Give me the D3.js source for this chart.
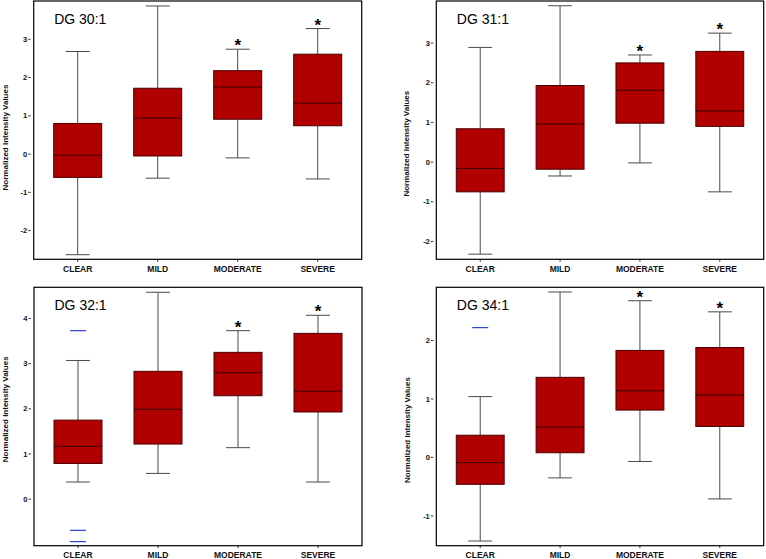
<!DOCTYPE html>
<html><head><meta charset="utf-8">
<script src="https://cdn.jsdelivr.net/npm/d3@7"></script>
<style>
html,body{margin:0;padding:0;background:#fff;}
svg{display:block;font-family:"Liberation Sans",Arial,Helvetica,sans-serif;}
</style></head>
<body><svg id="chart" width="766" height="559"></svg>
<script>
// ---- data ----
const categories = ["CLEAR", "MILD", "MODERATE", "SEVERE"];
const titles = ["DG 30:1", "DG 31:1", "DG 32:1", "DG 34:1"];
const yLabel = "Normalized Intensity Values";
const significant = [false, false, true, true];

const dg30Max = [2.68, 3.87, 2.74, 3.28];
const dg30Q3  = [0.80, 1.72, 2.18, 2.61];
const dg30Med = [-0.03, 0.94, 1.75, 1.33];
const dg30Q1  = [-0.61, -0.05, 0.91, 0.74];
const dg30Min = [-2.63, -0.63, -0.10, -0.65];
const dg30Out = [[], [], [], []];
const dg30Ticks = [-2, -1, 0, 1, 2, 3];

const dg31Max = [2.89, 3.94, 2.70, 3.25];
const dg31Q3  = [0.84, 1.93, 2.50, 2.79];
const dg31Med = [-0.16, 0.96, 1.81, 1.29];
const dg31Q1  = [-0.75, -0.18, 0.98, 0.90];
const dg31Min = [-2.32, -0.35, -0.02, -0.75];
const dg31Out = [[], [], [], []];
const dg31Ticks = [-2, -1, 0, 1, 2, 3];

const dg32Max = [3.07, 4.58, 3.73, 4.07];
const dg32Q3  = [1.75, 2.83, 3.25, 3.67];
const dg32Med = [1.17, 1.99, 2.80, 2.39];
const dg32Q1  = [0.79, 1.22, 2.29, 1.93];
const dg32Min = [0.38, 0.57, 1.14, 0.38];
const dg32Out = [[3.73, -0.69, -0.94], [], [], []];
const dg32Ticks = [0, 1, 2, 3, 4];

const dg34Max = [1.04, 2.83, 2.68, 2.49];
const dg34Q3  = [0.38, 1.37, 1.83, 1.88];
const dg34Med = [-0.09, 0.52, 1.14, 1.07];
const dg34Q1  = [-0.46, 0.08, 0.81, 0.53];
const dg34Min = [-1.43, -0.35, -0.07, -0.71];
const dg34Out = [[2.22], [], [], []];
const dg34Ticks = [-1, 0, 1, 2];

// ---- layout ----
const panels = [
  {title: titles[0], max: dg30Max, q3: dg30Q3, med: dg30Med, q1: dg30Q1, min: dg30Min, out: dg30Out, ticks: dg30Ticks,
   domain: [-2.75, 4.0], x0: 33.7, x1: 361.7, y0: 1, y1: 259.3, labX: 5.5, labY: 137.5},
  {title: titles[1], max: dg31Max, q3: dg31Q3, med: dg31Med, q1: dg31Q1, min: dg31Min, out: dg31Out, ticks: dg31Ticks,
   domain: [-2.45, 4.06], x0: 436.3, x1: 763.7, y0: 1, y1: 259.3, labX: 406.5, labY: 143.7},
  {title: titles[2], max: dg32Max, q3: dg32Q3, med: dg32Med, q1: dg32Q1, min: dg32Min, out: dg32Out, ticks: dg32Ticks,
   domain: [-1.03, 4.69], x0: 34, x1: 362, y0: 287.3, y1: 545.7, labX: 5.5, labY: 409.3},
  {title: titles[3], max: dg34Max, q3: dg34Q3, med: dg34Med, q1: dg34Q1, min: dg34Min, out: dg34Out, ticks: dg34Ticks,
   domain: [-1.51, 2.91], x0: 436.3, x1: 763.7, y0: 287.3, y1: 545.7, labX: 407, labY: 430}
];

const svg = d3.select("#chart");
const boxFill = "#b00000", boxStroke = "#4a0000", whiskerColor = "#4a4a4a", outColor = "#2a3fd0";

panels.forEach(p => {
  const g = svg.append("g");
  const x = d3.scalePoint().domain(categories).range([p.x0, p.x1]).padding(0.55);
  const y = d3.scaleLinear().domain(p.domain).range([p.y1, p.y0]);
  const step = x.step();
  const bw = step * 0.6;
  const cw = bw / 2;

  // y axis ticks
  const yt = g.append("g");
  yt.selectAll("line").data(p.ticks).join("line")
    .attr("x1", p.x0 - 5.5).attr("x2", p.x0 - 3)
    .attr("y1", d => y(d)).attr("y2", d => y(d))
    .attr("stroke", "#333").attr("stroke-width", 1);
  yt.selectAll("text").data(p.ticks).join("text")
    .attr("x", p.x0 - 6.5).attr("y", d => y(d)).attr("dy", "0.35em")
    .attr("text-anchor", "end").attr("font-size", 7.5).attr("font-weight", "bold")
    .attr("fill", "#111").text(d => d);

  // x axis ticks and labels
  const xt = g.append("g");
  xt.selectAll("line").data(categories).join("line")
    .attr("x1", d => x(d)).attr("x2", d => x(d))
    .attr("y1", p.y1).attr("y2", p.y1 + 2.5)
    .attr("stroke", "#333").attr("stroke-width", 1);
  xt.selectAll("text").data(categories).join("text")
    .attr("x", d => x(d)).attr("y", p.y1 + 12.4)
    .attr("text-anchor", "middle").attr("font-size", 8.5).attr("font-weight", "bold")
    .attr("fill", "#111").text(d => d);

  // y label
  g.append("text")
    .attr("transform", `translate(${p.labX},${p.labY}) rotate(-90)`)
    .attr("dy", "0.35em").attr("text-anchor", "middle")
    .attr("font-size", 8).attr("font-weight", "bold").attr("fill", "#111")
    .text(yLabel);

  // boxes
  categories.forEach((c, i) => {
    const cx = x(c);
    // whiskers
    g.append("line").attr("x1", cx).attr("x2", cx).attr("y1", y(p.q3[i])).attr("y2", y(p.max[i]))
      .attr("stroke", whiskerColor).attr("stroke-width", 1);
    g.append("line").attr("x1", cx).attr("x2", cx).attr("y1", y(p.q1[i])).attr("y2", y(p.min[i]))
      .attr("stroke", whiskerColor).attr("stroke-width", 1);
    g.append("line").attr("x1", cx - cw / 2).attr("x2", cx + cw / 2).attr("y1", y(p.max[i])).attr("y2", y(p.max[i]))
      .attr("stroke", whiskerColor).attr("stroke-width", 1);
    g.append("line").attr("x1", cx - cw / 2).attr("x2", cx + cw / 2).attr("y1", y(p.min[i])).attr("y2", y(p.min[i]))
      .attr("stroke", whiskerColor).attr("stroke-width", 1);
    // box
    g.append("rect").attr("x", cx - bw / 2).attr("y", y(p.q3[i]))
      .attr("width", bw).attr("height", y(p.q1[i]) - y(p.q3[i]))
      .attr("fill", boxFill).attr("stroke", boxStroke).attr("stroke-width", 1);
    g.append("line").attr("x1", cx - bw / 2).attr("x2", cx + bw / 2).attr("y1", y(p.med[i])).attr("y2", y(p.med[i]))
      .attr("stroke", "#3a0000").attr("stroke-width", 1);
    // outliers
    p.out[i].forEach(v => {
      g.append("line").attr("x1", cx - 8).attr("x2", cx + 8).attr("y1", y(v)).attr("y2", y(v))
        .attr("stroke", outColor).attr("stroke-width", 1.2);
    });
    // significance star
    if (significant[i]) {
      g.append("text").attr("x", cx).attr("y", y(p.max[i]) + 2)
        .attr("text-anchor", "middle").attr("font-size", 17).attr("font-weight", "bold")
        .attr("fill", "#000").text("*");
    }
  });

  // frame
  g.append("rect").attr("x", p.x0).attr("y", p.y0)
    .attr("width", p.x1 - p.x0).attr("height", p.y1 - p.y0)
    .attr("fill", "none").attr("stroke", "#000").attr("stroke-width", 1.2);

  // title
  g.append("text").attr("x", p.x0 + 20.5).attr("y", p.y0 + 22.8)
    .attr("font-size", 14).attr("fill", "#000").text(p.title);
});
</script></body></html>
